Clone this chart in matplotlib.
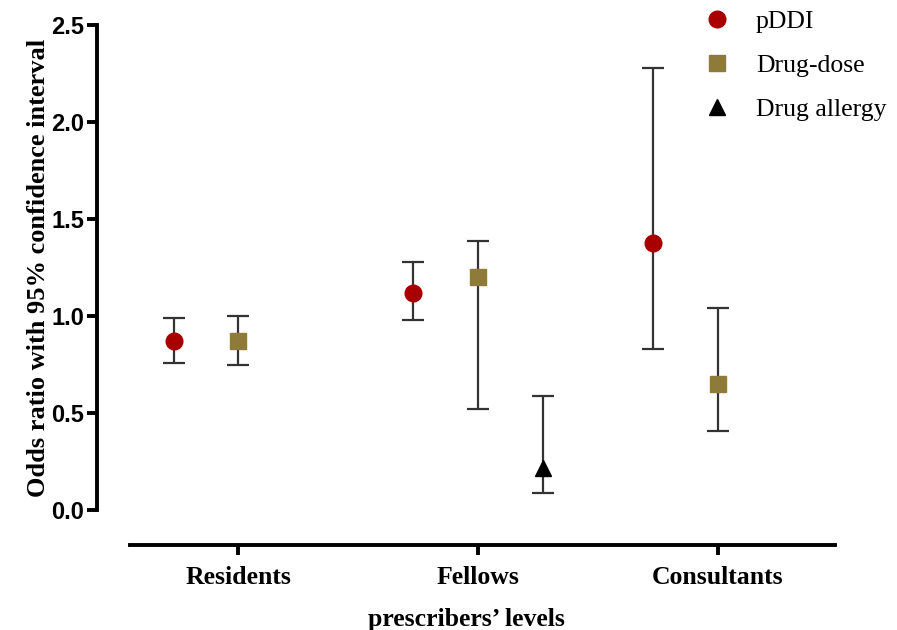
import numpy as np
import matplotlib
matplotlib.use("Agg")
from matplotlib import pyplot as plt

# data
levels = ["Residents", "Fellows", "Consultants"]

pddi_or = [0.87, 1.12, 1.38]
pddi_lo = [0.76, 0.98, 0.83]
pddi_hi = [0.99, 1.28, 2.28]

dose_or = [0.87, 1.20, 0.65]
dose_lo = [0.75, 0.52, 0.41]
dose_hi = [1.00, 1.39, 1.04]

# drug allergy only reported for fellows
allergy_idx = [1]
allergy_or = [0.22]
allergy_lo = [0.09]
allergy_hi = [0.59]

plt.rcParams.update({
    "font.family": ["Liberation Serif", "DejaVu Serif"],
})

fig = plt.figure(figsize=(8.97, 6.3), dpi=100)
ax = fig.add_axes([0.108, 0.190, 0.823, 0.770])

x = np.arange(len(levels))
off = 0.27


def draw(xs, ys, lo, hi, marker, color, ms, label):
    ys = np.array(ys)
    err = [ys - np.array(lo), np.array(hi) - ys]
    ax.errorbar(xs, ys, yerr=err, fmt="none", ecolor="#333333",
                elinewidth=1.6, capsize=8, capthick=1.6, zorder=2)
    ax.plot(xs, ys, linestyle="none", marker=marker, color=color,
            markersize=ms, zorder=3, label=label)


draw(x - off, pddi_or, pddi_lo, pddi_hi, "o", "#a80000", 12, "pDDI")
draw(x, dose_or, dose_lo, dose_hi, "s", "#8e7b3c", 11.5, "Drug-dose")
draw(np.array(allergy_idx) + off, allergy_or, allergy_lo, allergy_hi,
     "^", "black", 11, "Drug allergy")

ax.set_xlim(-0.59, 2.49)
ax.set_ylim(0, 2.5)

for s in ["top", "right"]:
    ax.spines[s].set_visible(False)
ax.spines["left"].set_linewidth(2.8)
ax.spines["left"].set_bounds(0, 2.5)
ax.spines["bottom"].set_linewidth(2.8)
ax.spines["bottom"].set_bounds(-0.45, 2.49)
ax.spines["bottom"].set_position(("outward", 25))

ax.set_yticks([0, 0.5, 1.0, 1.5, 2.0, 2.5])
ax.set_yticklabels([f"{v:.1f}" for v in [0, 0.5, 1.0, 1.5, 2.0, 2.5]],
                   fontfamily="Liberation Sans", fontweight="bold", fontsize=17)
ax.set_xticks(x)
ax.set_xticklabels(levels, fontweight="bold", fontsize=18.5)
ax.tick_params(axis="both", width=2.8, length=7)
ax.tick_params(axis="y", pad=2)
ax.tick_params(axis="x", pad=8)

ax.set_ylabel("Odds ratio with 95% confidence interval", fontweight="bold",
              fontsize=19, labelpad=1)
ax.set_xlabel("prescribers\u2019 levels", fontweight="bold", fontsize=18.5,
              labelpad=14)

ax.legend(loc="upper left", bbox_to_anchor=(0.79, 1.08), frameon=False,
          fontsize=18.5, handletextpad=0.95, labelspacing=0.82,
          handlelength=1.1)

fig.savefig("out.png", dpi=100)
